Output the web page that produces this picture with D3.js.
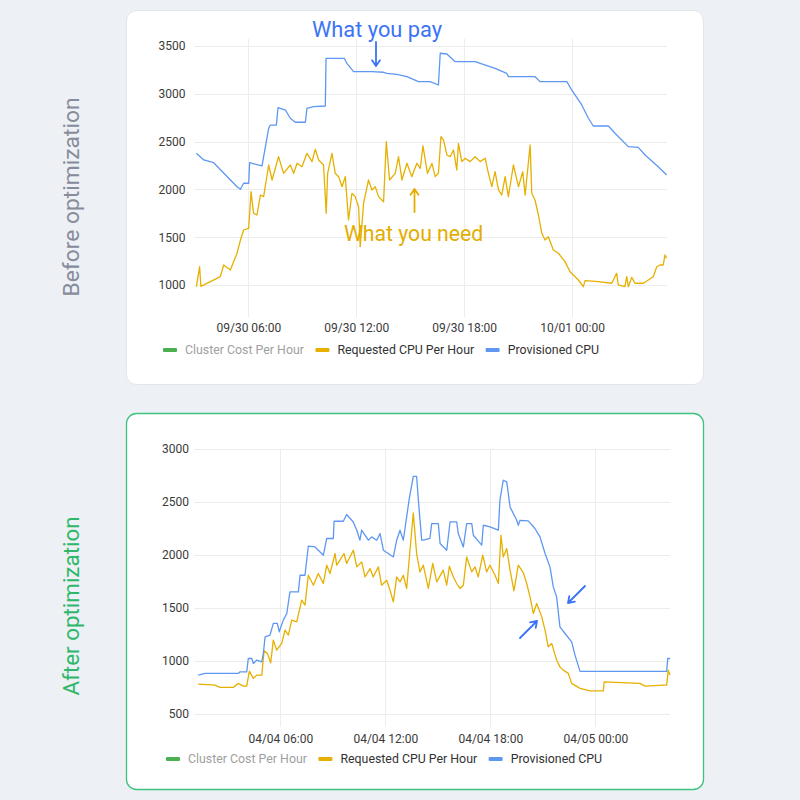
<!DOCTYPE html>
<html><head><meta charset="utf-8">
<script src="https://cdn.jsdelivr.net/npm/d3@7"></script>
<style>
html,body{margin:0;padding:0;background:#edf0f4;}
svg{display:block;font-family:Roboto,"Noto Sans",sans-serif;}
</style></head>
<body>
<svg id="chart" width="800" height="800"></svg>
<script>
// ---- data (hours since start of first day, value) ----
const beforeProvisioned = [[3.11,2378],[3.52,2308],[4.07,2279],[5.37,2028],[5.56,2001],[5.74,2064],[6.02,2064],[6.07,2279],[6.76,2245],[6.85,2342],[7.13,2639],[7.22,2673],[7.56,2673],[7.65,2855],[8.06,2830],[8.33,2744],[8.61,2702],[9.17,2702],[9.26,2848],[9.63,2865],[10.28,2872],[10.32,3371],[11.33,3371],[11.48,3319],[11.85,3231],[12.87,3231],[13.52,3225],[13.71,3214],[14.26,3204],[14.82,3179],[15.46,3127],[16.11,3127],[16.57,3092],[16.67,3424],[17.04,3416],[17.5,3336],[18.61,3336],[18.98,3312],[19.72,3266],[20.37,3214],[20.46,3179],[21.94,3179],[22.22,3127],[23.71,3127],[23.98,3040],[24.54,2883],[24.91,2744],[25.18,2663],[26.02,2663],[26.39,2587],[27.13,2447],[27.68,2440],[28.06,2360],[28.79,2237],[29.26,2150]];
const beforeRequested = [[3.11,982],[3.29,1191],[3.36,986],[3.89,1035],[4.44,1087],[4.63,1209],[5.0,1157],[5.37,1332],[5.56,1470],[5.74,1575],[6.02,1593],[6.15,1976],[6.29,1750],[6.48,1732],[6.67,1941],[6.85,1924],[7.13,2255],[7.32,2098],[7.68,2342],[7.96,2168],[8.33,2255],[8.52,2168],[8.71,2273],[8.98,2237],[9.26,2377],[9.54,2290],[9.72,2419],[9.91,2307],[10.18,2255],[10.33,1750],[10.41,2168],[10.65,2377],[10.83,2168],[11.02,2133],[11.21,2028],[11.39,2133],[11.57,1680],[11.76,1959],[11.94,1924],[12.13,1819],[12.22,1401],[12.41,1855],[12.68,2098],[12.87,1994],[13.06,2028],[13.24,1924],[13.52,1871],[13.67,2499],[13.85,2098],[14.17,2168],[14.35,2342],[14.54,2098],[14.82,2273],[15.09,2133],[15.37,2273],[15.56,2220],[15.71,2454],[15.96,2168],[16.21,2273],[16.39,2133],[16.57,2168],[16.71,2551],[16.85,2517],[17.04,2360],[17.22,2342],[17.41,2412],[17.59,2203],[17.68,2482],[17.87,2290],[18.06,2325],[18.33,2290],[18.61,2342],[18.89,2290],[19.17,2325],[19.35,2168],[19.54,2028],[19.72,2185],[19.91,1994],[20.09,1941],[20.28,2133],[20.46,1924],[20.74,2255],[21.02,2028],[21.26,2185],[21.39,1941],[21.67,2464],[21.76,1959],[21.94,1889],[22.13,1732],[22.32,1541],[22.5,1470],[22.68,1505],[22.96,1366],[23.24,1332],[23.61,1244],[23.89,1139],[24.35,1052],[24.63,982],[24.72,1045],[25.46,1035],[26.21,1018],[26.48,1122],[26.57,1000],[26.94,982],[27.04,1087],[27.13,982],[27.32,1080],[27.5,1018],[27.96,1018],[28.24,1052],[28.52,1087],[28.71,1191],[28.89,1209],[29.07,1209],[29.17,1314],[29.26,1280]];
const afterProvisioned = [[1.31,865],[1.70,881],[3.6,881],[3.70,896],[4.08,896],[4.17,1022],[4.37,1022],[4.46,975],[4.65,1007],[4.94,991],[5.03,1070],[5.13,1226],[5.41,1242],[5.6,1353],[5.83,1353],[5.94,1274],[6.17,1384],[6.37,1447],[6.55,1651],[7.03,1651],[7.13,1808],[7.41,1808],[7.6,2082],[7.98,2075],[8.46,1997],[8.65,2155],[9.03,2155],[9.07,2318],[9.6,2318],[9.79,2381],[10.17,2311],[10.37,2233],[10.55,2139],[10.65,2233],[11.03,2139],[11.22,2170],[11.51,2139],[11.7,2202],[11.89,2044],[12.46,1981],[12.65,2139],[12.84,2233],[13.03,2139],[13.37,2532],[13.6,2742],[13.79,2742],[13.89,2516],[14.08,2139],[14.17,2139],[14.55,2155],[14.65,2296],[15.03,2296],[15.13,2108],[15.51,2044],[15.7,2311],[16.08,2311],[16.17,2202],[16.46,2075],[16.65,2296],[16.94,2296],[17.03,2186],[17.51,2092],[17.6,2280],[17.98,2264],[18.46,2233],[18.55,2516],[18.74,2705],[18.94,2689],[19.13,2453],[19.51,2327],[19.6,2280],[19.7,2327],[20.17,2321],[20.55,2249],[20.84,2170],[21.13,2013],[21.41,1887],[21.6,1698],[21.79,1604],[21.98,1321],[22.27,1258],[22.65,1179],[22.84,1054],[23.13,900],[28.08,900],[28.14,1022],[28.27,1022]];
const afterRequested = [[1.31,780],[2.27,771],[2.55,749],[3.31,749],[3.6,787],[3.89,761],[4.08,761],[4.23,903],[4.46,834],[4.65,865],[4.94,865],[5.07,1094],[5.26,1070],[5.45,981],[5.6,1195],[5.79,1101],[6.08,1164],[6.27,1290],[6.46,1242],[6.65,1384],[6.94,1368],[7.22,1573],[7.41,1526],[7.6,1808],[7.89,1714],[8.17,1824],[8.46,1730],[8.65,1903],[8.84,1824],[9.13,2013],[9.22,1903],[9.41,1950],[9.64,2013],[9.79,1919],[10.17,2044],[10.37,1887],[10.65,1934],[10.84,1792],[11.13,1871],[11.31,1792],[11.6,1887],[11.79,1714],[12.08,1761],[12.27,1667],[12.46,1557],[12.65,1792],[12.84,1745],[13.03,1808],[13.22,1683],[13.41,2044],[13.6,2396],[13.79,2013],[13.98,1840],[14.17,1903],[14.46,1683],[14.71,1919],[14.94,1745],[15.31,1856],[15.51,1714],[15.66,1893],[15.89,1792],[16.08,1730],[16.27,1683],[16.46,1714],[16.65,1981],[16.94,1840],[17.13,1887],[17.31,1792],[17.57,1997],[17.79,1840],[17.98,1903],[18.27,1808],[18.46,1730],[18.61,2186],[18.74,1981],[18.94,2060],[19.13,1856],[19.35,1660],[19.6,1903],[19.89,1830],[20.08,1730],[20.27,1604],[20.46,1447],[20.65,1541],[20.94,1415],[21.13,1290],[21.31,1132],[21.51,1164],[21.79,1007],[21.98,943],[22.17,912],[22.46,881],[22.65,787],[23.13,740],[23.7,717],[24.46,717],[24.51,802],[26.55,787],[26.84,761],[27.89,771],[28.08,771],[28.17,912],[28.27,865]];

const beforeYTicks = [1000,1500,2000,2500,3000,3500];
const afterYTicks = [500,1000,1500,2000,2500,3000];
const xTickHours = [6,12,18,24];
const legendLabels = ["Cluster Cost Per Hour","Requested CPU Per Hour","Provisioned CPU"];
const legendColors = ["#4caf50","#e6b000","#5e97f2"];
const legendTextColors = ["#a0a0a0","#333","#333"];

const svg = d3.select("#chart");
const BLUE = "#5e97f2", YELLOW = "#e6b000";

// cards
svg.append("rect").attr("x",126.5).attr("y",10.5).attr("width",577).attr("height",374)
  .attr("rx",10).attr("fill","#fff").attr("stroke","#e2e5ea");
svg.append("rect").attr("x",126.5).attr("y",413.5).attr("width",577).attr("height",376)
  .attr("rx",10).attr("fill","#fff").attr("stroke","#3fc17f").attr("stroke-width",1.3);

// side labels
svg.append("text").attr("transform","translate(79,197) rotate(-90)")
  .attr("text-anchor","middle").attr("font-size",22.8).attr("fill","#878c9a").text("Before optimization");
svg.append("text").attr("transform","translate(79,606) rotate(-90)")
  .attr("text-anchor","middle").attr("font-size",22.4).attr("fill","#2fb86c").text("After optimization");

function drawChart(cfg){
  const base = cfg.base;
  const toDate = h => new Date(base.getTime() + h*3600e3);
  const x = d3.scaleTime().domain([toDate(cfg.h0), toDate(cfg.h1)]).range([cfg.left, cfg.right]);
  const y = d3.scaleLinear().domain(cfg.yDomain).range([cfg.bottom, cfg.top]);
  const g = svg.append("g");
  // horizontal grid
  g.append("g").selectAll("line").data(cfg.yTicks).join("line")
    .attr("x1",cfg.left).attr("x2",cfg.right).attr("y1",d=>Math.round(y(d))+0.5).attr("y2",d=>Math.round(y(d))+0.5)
    .attr("stroke","#ececec");
  // vertical grid
  const xt = xTickHours.map(toDate);
  g.append("g").selectAll("line").data(xt).join("line")
    .attr("x1",d=>Math.round(x(d))+0.5).attr("x2",d=>Math.round(x(d))+0.5).attr("y1",cfg.top).attr("y2",cfg.bottom)
    .attr("stroke","#ececec");
  // y axis labels
  const ya = g.append("g").attr("transform",`translate(${cfg.left},0)`)
    .call(d3.axisLeft(y).tickValues(cfg.yTicks).tickSize(0).tickPadding(cfg.yPad).tickFormat(d3.format("d")));
  ya.select(".domain").remove();
  ya.selectAll("text").attr("font-size",12).attr("fill","#3a3a3a").attr("font-family","Roboto");
  // x axis labels
  const xa = g.append("g").attr("transform",`translate(0,${cfg.bottom})`)
    .call(d3.axisBottom(x).tickValues(xt).tickSize(0).tickPadding(cfg.xPad).tickFormat(d3.timeFormat("%m/%d %H:%M")));
  xa.select(".domain").remove();
  xa.selectAll("text").attr("font-size",12).attr("fill","#3a3a3a").attr("font-family","Roboto");
  // lines
  const line = d3.line().x(d=>x(toDate(d[0]))).y(d=>y(d[1]));
  g.append("path").datum(cfg.req).attr("d",line).attr("fill","none").attr("stroke",YELLOW).attr("stroke-width",1.3).attr("stroke-linejoin","round");
  g.append("path").datum(cfg.prov).attr("d",line).attr("fill","none").attr("stroke",BLUE).attr("stroke-width",1.3).attr("stroke-linejoin","round");
  // legend
  const lg = g.append("g");
  let lx = cfg.legendX;
  legendLabels.forEach((lab,i)=>{
    lg.append("rect").attr("x",lx).attr("y",cfg.legendY-2).attr("width",14).attr("height",4).attr("rx",1).attr("fill",legendColors[i]);
    const t = lg.append("text").attr("x",lx+22).attr("y",cfg.legendY+4.4).attr("font-size",12.35)
      .attr("fill",legendTextColors[i]).text(lab);
    lx += 22 + t.node().getComputedTextLength() + 11.5;
  });
  return {x,y,toDate};
}

drawChart({base:new Date(2023,8,30,0,0), h0:3.0, h1:29.28, left:194.4, right:667, top:39, bottom:317,
  yDomain:[665,3573], yTicks:beforeYTicks, yPad:9, xPad:6.5, prov:beforeProvisioned, req:beforeRequested,
  legendX:163, legendY:350});
drawChart({base:new Date(2023,3,4,0,0), h0:1.09, h1:28.27, left:194.4, right:670, top:449, bottom:727,
  yDomain:[375,3000], yTicks:afterYTicks, yPad:5.5, xPad:7.5, prov:afterProvisioned, req:afterRequested,
  legendX:166, legendY:759});

// annotations
function arrow(x1,y1,x2,y2,color){
  const a = Math.atan2(y2-y1,x2-x1), L = 7, s = 0.6;
  const p = d3.path();
  p.moveTo(x1,y1); p.lineTo(x2,y2);
  p.moveTo(x2 - L*Math.cos(a-s), y2 - L*Math.sin(a-s)); p.lineTo(x2,y2);
  p.lineTo(x2 - L*Math.cos(a+s), y2 - L*Math.sin(a+s));
  svg.append("path").attr("d",p.toString()).attr("fill","none").attr("stroke",color).attr("stroke-width",1.8).attr("stroke-linecap","round").attr("stroke-linejoin","round");
}
svg.append("text").attr("x",312).attr("y",37).attr("font-size",21.8).attr("fill","#3b73f6").text("What you pay");
arrow(376,42,376,66,"#3b73f6");
svg.append("text").attr("x",344).attr("y",241).attr("font-size",21.2).attr("fill","#e3ad00").text("What you need");
arrow(414.5,212,414.5,189,"#e3ad00");
arrow(585,586,568,603,"#3b73f6");
arrow(520,638,537,621,"#3b73f6");
</script>
</body></html>
